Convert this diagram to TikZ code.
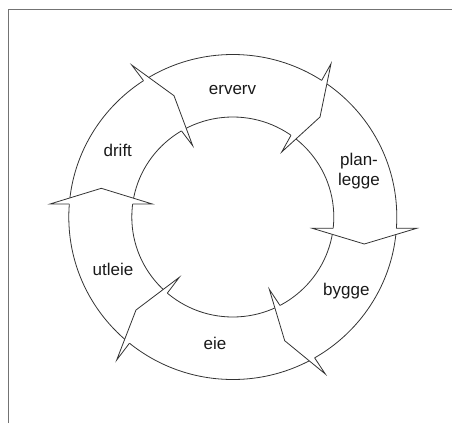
\documentclass[tikz,border=0pt]{standalone}
\usepackage{fontspec}
\setmainfont{Liberation Sans}
\usetikzlibrary{intersections}
\begin{document}
\begin{tikzpicture}[x=1pt,y=-1pt,
  ringline/.style={draw=black!80, line width=0.8pt},
  headline/.style={draw=black!80, line width=0.8pt, line join=miter},
  lbl/.style={font=\fontsize{17}{19.5}\selectfont, text=black!90, inner sep=0pt}]
\useasboundingbox (0,0) rectangle (452,423);

% page frame (top and left edges)
\draw[black!55, line width=1pt] (8,423) -- (8,9) -- (452,9);

% the ring
\coordinate (c) at (232.8,217);
\draw[ringline, name path=outer] (c) ellipse [x radius=164, y radius=162.5];
\draw[ringline, name path=inner] (c) ellipse [x radius=101, y radius=100];

% arrow heads: outer wing / tip / inner wing
\foreach \n/\ox/\oy/\tx/\ty/\ix/\iy in {
    1/331/63.7/320/117/281.7/152,
    2/416.7/228.3/364.3/244/312.3/228.3,
    3/325.3/374/284.7/340.7/269.3/289.3,
    4/116.7/360/136/310/179.3/277.3,
    5/50/204/101.3/188.3/152.3/204,
    6/131.7/65/174/95.7/192.7/145.7}{
  \coordinate (wo) at (\ox,\oy);
  \coordinate (tp) at (\tx,\ty);
  \coordinate (wi) at (\ix,\iy);
  \path[name path=base] (wo) -- (wi);
  \path[name intersections={of=outer and base, by=jo}];
  \path[name intersections={of=inner and base, by=ji}];
  \fill[white] (wo) -- (tp) -- (wi) -- cycle;
  \draw[headline] (jo) -- (wo) -- (tp) -- (wi) -- (ji);
}

% stage labels
\node[lbl, anchor=base] (erverv) at (232.5,94.5) {erverv};
\node[lbl, align=center] (planlegge) at (359,171) {plan-\\legge};
\node[lbl, anchor=base] (bygge) at (346.3,295.5) {bygge};
\node[lbl, anchor=base] (eie) at (215,349.5) {eie};
\node[lbl, anchor=base] (utleie) at (113,275.5) {utleie};
\node[lbl, anchor=base] (drift) at (117.8,156) {drift};
\end{tikzpicture}
\end{document}
